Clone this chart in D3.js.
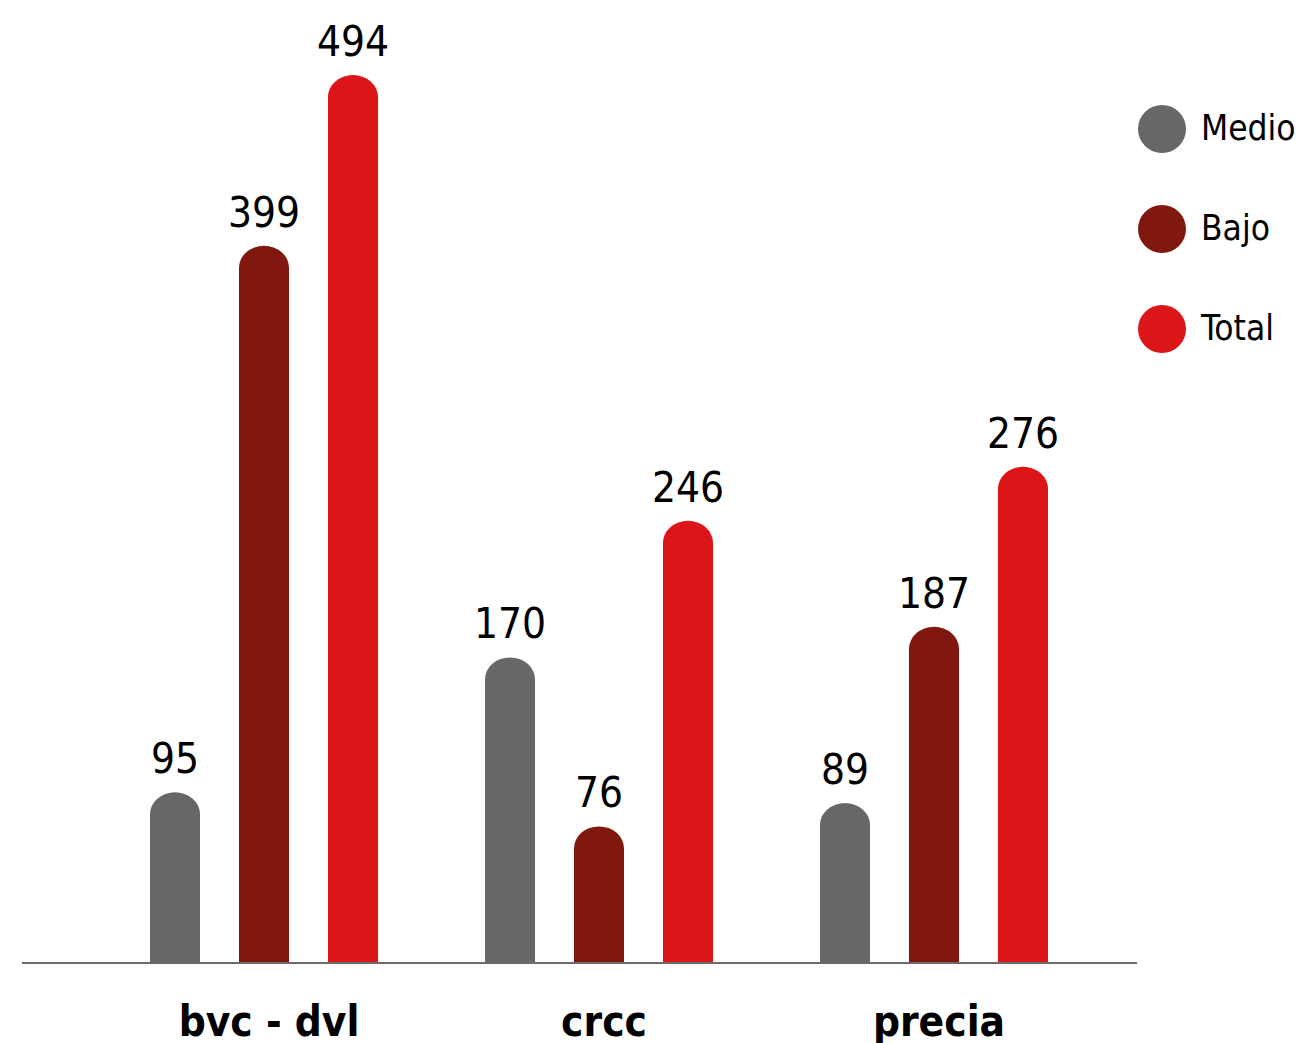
<!DOCTYPE html>
<html>
<head>
<meta charset="utf-8">
<script src="https://cdn.jsdelivr.net/npm/d3@7"></script>
<style>
  html, body { margin: 0; padding: 0; background: #ffffff; }
  svg { display: block; }
</style>
</head>
<body>
<svg id="chart" width="1301" height="1043"></svg>
<script>
const categories = ["bvc - dvl", "crcc", "precia"];
const seriesNames = ["Medio", "Bajo", "Total"];
const medio = [95, 170, 89];
const bajo = [399, 76, 187];
const total = [494, 246, 276];
const seriesColors = ["#676767", "#801810", "#dc1519"];

const seriesValues = [medio, bajo, total];
const rows = [];
categories.forEach((c, i) => {
  seriesNames.forEach((s, j) => rows.push({ cat: c, series: s, value: seriesValues[j][i] }));
});

const svg = d3.select("#chart");
const font = "'DejaVu Sans Condensed', 'DejaVu Sans', sans-serif";
const baseY = 963;

const x0 = d3.scaleBand().domain(categories).range([96.5, 1101.5]).padding(0);
const x1 = d3.scaleBand().domain(seriesNames).range([-114, 114]).paddingInner(0.438).paddingOuter(0);
const y = d3.scaleLinear().domain([0, 494]).range([baseY, 75]);
const color = d3.scaleOrdinal().domain(seriesNames).range(seriesColors);

function roundedTop(x, yTop, w, h) {
  const rx = w / 2;
  const ry = Math.min(22, h);
  return `M${x},${yTop + h} L${x},${yTop + ry} A${rx},${ry} 0 0 1 ${x + w},${yTop + ry} L${x + w},${yTop + h} Z`;
}

const g = svg.append("g");
g.selectAll("path.bar")
  .data(rows)
  .join("path")
  .attr("class", "bar")
  .attr("fill", d => color(d.series))
  .attr("d", d => {
    const bx = x0(d.cat) + x0.bandwidth() / 2 + x1(d.series);
    return roundedTop(bx, y(d.value), x1.bandwidth(), baseY - y(d.value));
  });

g.selectAll("text.val")
  .data(rows)
  .join("text")
  .attr("class", "val")
  .attr("x", d => x0(d.cat) + x0.bandwidth() / 2 + x1(d.series) + x1.bandwidth() / 2)
  .attr("y", d => y(d.value) - 19)
  .attr("text-anchor", "middle")
  .attr("font-family", font)
  .attr("font-size", 42)
  .attr("fill", "#000")
  .text(d => d.value);

// baseline axis
svg.append("line")
  .attr("x1", 22).attr("x2", 1137)
  .attr("y1", baseY).attr("y2", baseY)
  .attr("stroke", "#6b6b6b").attr("stroke-width", 2);

// category labels
const xAxis = d3.axisBottom(x0).tickSize(0).tickPadding(0);
const ax = svg.append("g").attr("transform", `translate(5,${baseY})`).call(xAxis);
ax.select(".domain").remove();
ax.selectAll("text")
  .attr("dy", 0)
  .attr("y", 73)
  .attr("font-family", font)
  .attr("font-weight", "bold")
  .attr("font-size", 42)
  .attr("fill", "#000");

// legend
const legend = svg.append("g");
const lg = legend.selectAll("g")
  .data(seriesNames)
  .join("g")
  .attr("transform", (d, i) => `translate(1162,${129 + i * 100})`);
lg.append("circle").attr("r", 24).attr("fill", d => color(d));
lg.append("text")
  .attr("x", 39).attr("y", 11)
  .attr("font-family", font)
  .attr("font-size", 35)
  .attr("fill", "#000")
  .text(d => d);
</script>
</body>
</html>
